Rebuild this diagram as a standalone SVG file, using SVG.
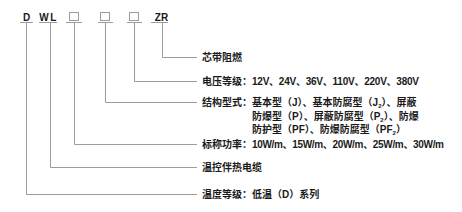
<svg xmlns="http://www.w3.org/2000/svg" width="462" height="212" viewBox="0 0 462 212">
<style>
.t{font-family:"Liberation Sans","Noto Sans CJK SC",sans-serif;font-size:10px;font-weight:bold;fill:#1a1a1a}
.c{fill:none;stroke:#9c9c9c;stroke-width:1}
.b{fill:#fff;stroke:#9c9c9c;stroke-width:1}
.s{font-size:6px}
</style>
<rect width="462" height="212" fill="#fff"/>
<g id="connectors" class="c">
<path d="M20 22.5H33M39 22.5H57M66 22.5H82M98 22.5H113M127 22.5H142M151 22.5H168"/>
<path d="M162.5 22.5V57.5H197"/>
<path d="M134.5 22.5V81.5H197"/>
<path d="M105.5 22.5V102.5H197"/>
<path d="M74.5 22.5V144.5H197"/>
<path d="M50.5 22.5V167.5H197"/>
<path d="M26.5 22.5V194.5H197"/>
</g>
<g id="code-D"><text class="t" x="26.5" y="20.5" text-anchor="middle">D</text></g>
<g id="code-WL"><text class="t" x="48.5" y="20.5" text-anchor="middle" letter-spacing="1.5">WL</text></g>
<g id="code-box1"><rect class="b" x="69.5" y="12.5" width="9" height="8"/></g>
<g id="code-box2"><rect class="b" x="100.5" y="12.5" width="9" height="8"/></g>
<g id="code-box3"><rect class="b" x="129.5" y="12.5" width="9" height="8"/></g>
<g id="code-ZR"><text class="t" x="161.5" y="20.5" text-anchor="middle">ZR</text></g>
<g id="label-zr"><text class="t" x="202" y="60.7">芯带阻燃</text></g>
<g id="label-voltage"><text class="t" x="202" y="85.2">电压等级：</text><text class="t" x="252" y="85.2" textLength="167" lengthAdjust="spacing">12V、24V、36V、110V、220V、380V</text></g>
<g id="label-structure">
<text class="t" x="202" y="105.7">结构型式：基本型（J）、基本防腐型（J<tspan class="s" dy="2">2</tspan><tspan dy="-2">）、屏蔽</tspan></text>
<text class="t" x="252" y="119.7">防爆型（P）、屏蔽防腐型（P<tspan class="s" dy="2">2</tspan><tspan dy="-2">）、防爆</tspan></text>
<text class="t" x="252" y="132.7">防护型（PF）、防爆防腐型（PF<tspan class="s" dy="2">2</tspan><tspan dy="-2">）</tspan></text>
</g>
<g id="label-power"><text class="t" x="202" y="148.2">标称功率：</text><text class="t" x="252" y="148.2" textLength="192" lengthAdjust="spacing">10W/m、15W/m、20W/m、25W/m、30W/m</text></g>
<g id="label-type"><text class="t" x="202" y="171.2">温控伴热电缆</text></g>
<g id="label-temp"><text class="t" x="202" y="198.2">温度等级：低温（D）系列</text></g>
</svg>
